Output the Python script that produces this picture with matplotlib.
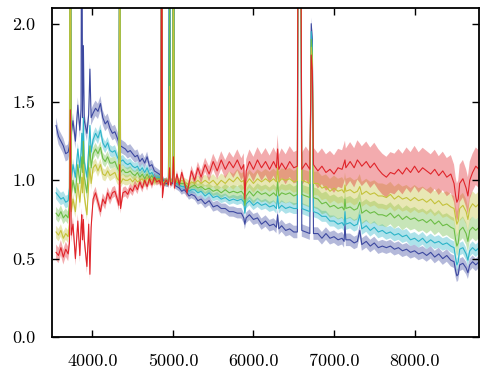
import numpy as np
import matplotlib
matplotlib.use('Agg')
from matplotlib import pyplot as plt
from matplotlib.ticker import FormatStrFormatter

plt.rcParams['font.family'] = 'serif'
plt.rcParams['font.serif'] = ['cmr10']
plt.rcParams['axes.unicode_minus'] = False
plt.rcParams['mathtext.fontset'] = 'cm'

# wavelength grid (Angstrom), 10 per row
wave = [3550, 3580, 3610, 3640, 3670, 3700, 3716, 3727, 3738, 3760,
        3790, 3820, 3845, 3860, 3869, 3878, 3889, 3900, 3933, 3955,
        3970, 3985, 4010, 4040, 4070, 4101, 4130, 4160, 4190, 4220,
        4250, 4280, 4310, 4330, 4340, 4350, 4380, 4410, 4440, 4470,
        4500, 4530, 4560, 4590, 4620, 4650, 4680, 4710, 4740, 4770,
        4800, 4830, 4852, 4861, 4870, 4890, 4920, 4945, 4959, 4970,
        4995, 5007, 5019, 5050, 5080, 5110, 5140, 5175, 5200, 5230,
        5270, 5310, 5350, 5400, 5450, 5500, 5550, 5600, 5650, 5700,
        5750, 5800, 5850, 5880, 5893, 5910, 5950, 6000, 6050, 6100,
        6150, 6200, 6250, 6285, 6300, 6315, 6350, 6400, 6450, 6500,
        6545, 6563, 6575, 6583, 6600, 6650, 6700, 6717, 6731, 6745,
        6800, 6850, 6900, 6950, 7000, 7050, 7100, 7125, 7136, 7147,
        7200, 7250, 7290, 7320, 7345, 7400, 7450, 7500, 7550, 7600,
        7650, 7700, 7750, 7800, 7850, 7900, 7950, 8000, 8050, 8100,
        8150, 8200, 8250, 8300, 8350, 8400, 8450, 8490, 8510, 8525,
        8542, 8560, 8600, 8640, 8662, 8685, 8720, 8760, 8800]

flux_blue = [1.35, 1.28, 1.25, 1.22, 1.17, 1.18, 1.22, 4.00, 1.30, 1.38,
             1.25, 1.48, 1.32, 1.45, 3.50, 1.40, 1.86, 1.38, 1.30, 1.42,
             1.71, 1.40, 1.43, 1.46, 1.44, 1.49, 1.40, 1.36, 1.38, 1.33,
             1.30, 1.31, 1.27, 1.24, 3.00, 1.22, 1.21, 1.20, 1.18, 1.19,
             1.17, 1.15, 1.16, 1.12, 1.14, 1.11, 1.15, 1.09, 1.10, 1.06,
             1.05, 1.04, 1.03, 3.50, 1.01, 0.99, 0.98, 0.98, 3.00, 0.99,
             0.98, 4.00, 0.97, 0.96, 0.95, 0.93, 0.94, 0.92, 0.90, 0.91,
             0.90, 0.87, 0.88, 0.85, 0.87, 0.83, 0.84, 0.82, 0.82, 0.80,
             0.80, 0.79, 0.79, 0.76, 0.72, 0.76, 0.78, 0.75, 0.76, 0.72,
             0.74, 0.71, 0.72, 0.70, 0.78, 0.69, 0.71, 0.68, 0.69, 0.67,
             0.67, 5.00, 2.50, 3.50, 0.68, 0.67, 0.66, 2.00, 1.90, 0.66,
             0.66, 0.63, 0.66, 0.63, 0.64, 0.62, 0.63, 0.61, 0.72, 0.62,
             0.62, 0.60, 0.61, 0.68, 0.59, 0.61, 0.58, 0.60, 0.57, 0.58,
             0.57, 0.58, 0.56, 0.57, 0.55, 0.56, 0.54, 0.55, 0.53, 0.54,
             0.52, 0.54, 0.51, 0.53, 0.50, 0.52, 0.49, 0.48, 0.42, 0.39,
             0.40, 0.46, 0.47, 0.44, 0.41, 0.46, 0.48, 0.46, 0.48]

flux_cyan = [0.92, 0.90, 0.88, 0.89, 0.86, 0.87, 0.95, 4.00, 1.00, 1.10,
             1.02, 1.20, 1.08, 1.18, 1.30, 1.15, 1.40, 1.12, 1.02, 1.20,
             1.35, 1.18, 1.26, 1.30, 1.27, 1.32, 1.24, 1.21, 1.24, 1.19,
             1.18, 1.19, 1.15, 1.13, 3.00, 1.12, 1.13, 1.11, 1.10, 1.11,
             1.09, 1.08, 1.09, 1.06, 1.08, 1.05, 1.08, 1.04, 1.05, 1.02,
             1.02, 1.02, 1.01, 3.50, 1.00, 0.99, 0.99, 0.98, 3.00, 0.99,
             0.99, 4.00, 0.98, 0.98, 0.97, 0.96, 0.96, 0.94, 0.93, 0.94,
             0.94, 0.92, 0.93, 0.90, 0.92, 0.89, 0.90, 0.88, 0.89, 0.87,
             0.88, 0.87, 0.88, 0.86, 0.79, 0.85, 0.87, 0.84, 0.86, 0.84,
             0.85, 0.83, 0.84, 0.82, 0.90, 0.82, 0.84, 0.82, 0.83, 0.82,
             0.82, 5.00, 2.50, 3.50, 0.82, 0.81, 0.80, 1.95, 1.85, 0.80,
             0.79, 0.77, 0.77, 0.74, 0.74, 0.72, 0.73, 0.71, 0.80, 0.72,
             0.73, 0.71, 0.72, 0.78, 0.69, 0.71, 0.68, 0.70, 0.67, 0.68,
             0.66, 0.67, 0.65, 0.66, 0.64, 0.65, 0.62, 0.63, 0.61, 0.63,
             0.60, 0.62, 0.60, 0.61, 0.59, 0.60, 0.58, 0.57, 0.50, 0.46,
             0.48, 0.56, 0.57, 0.53, 0.49, 0.55, 0.57, 0.55, 0.57]

flux_green = [0.79, 0.77, 0.80, 0.76, 0.78, 0.76, 0.85, 4.00, 0.90, 1.00,
              0.92, 1.10, 0.98, 1.08, 1.15, 1.05, 1.25, 1.02, 0.92, 1.10,
              1.22, 1.08, 1.17, 1.20, 1.17, 1.21, 1.14, 1.12, 1.15, 1.11,
              1.11, 1.12, 1.08, 1.06, 3.00, 1.05, 1.07, 1.05, 1.05, 1.06,
              1.04, 1.03, 1.05, 1.02, 1.04, 1.01, 1.04, 1.01, 1.03, 1.00,
              1.01, 1.01, 1.00, 3.50, 0.99, 0.99, 0.99, 0.99, 2.20, 0.99,
              0.99, 3.00, 0.99, 0.99, 0.98, 0.98, 0.98, 0.96, 0.95, 0.96,
              0.97, 0.95, 0.96, 0.94, 0.95, 0.93, 0.94, 0.92, 0.94, 0.92,
              0.93, 0.92, 0.93, 0.91, 0.84, 0.90, 0.93, 0.90, 0.93, 0.91,
              0.92, 0.90, 0.92, 0.90, 0.99, 0.90, 0.92, 0.91, 0.92, 0.90,
              0.91, 5.00, 2.50, 3.50, 0.91, 0.90, 0.89, 1.90, 1.80, 0.89,
              0.88, 0.85, 0.86, 0.83, 0.84, 0.82, 0.83, 0.81, 0.88, 0.82,
              0.83, 0.81, 0.82, 0.86, 0.79, 0.81, 0.79, 0.80, 0.78, 0.78,
              0.77, 0.79, 0.76, 0.78, 0.75, 0.77, 0.75, 0.76, 0.74, 0.75,
              0.73, 0.75, 0.72, 0.74, 0.71, 0.72, 0.70, 0.69, 0.62, 0.58,
              0.60, 0.68, 0.70, 0.66, 0.61, 0.68, 0.70, 0.68, 0.70]

flux_yellow = [0.67, 0.65, 0.68, 0.63, 0.66, 0.64, 0.72, 4.00, 0.80, 0.88,
               0.80, 0.98, 0.86, 0.95, 1.02, 0.92, 1.10, 0.90, 0.78, 0.98,
               1.08, 0.98, 1.08, 1.10, 1.06, 1.10, 1.04, 1.03, 1.06, 1.03,
               1.04, 1.05, 1.01, 1.00, 3.00, 0.98, 1.01, 1.00, 1.00, 1.01,
               0.99, 1.01, 0.99, 1.00, 1.01, 0.98, 1.02, 0.99, 1.01, 0.99,
               1.00, 1.00, 0.99, 3.50, 0.98, 0.99, 0.99, 0.99, 1.60, 0.99,
               1.00, 2.50, 0.99, 1.00, 0.99, 1.00, 0.99, 0.98, 0.97, 0.99,
               0.98, 1.00, 0.98, 1.00, 0.98, 1.00, 0.97, 1.00, 0.98, 1.01,
               0.99, 1.02, 0.99, 1.00, 0.91, 0.98, 1.01, 0.98, 1.01, 0.99,
               1.01, 0.99, 1.01, 0.99, 1.08, 0.99, 1.01, 1.00, 1.01, 0.99,
               1.00, 5.00, 2.50, 3.50, 1.00, 0.99, 0.98, 1.85, 1.75, 0.98,
               0.98, 0.95, 0.96, 0.93, 0.95, 0.93, 0.94, 0.92, 0.97, 0.93,
               0.94, 0.92, 0.93, 0.96, 0.91, 0.93, 0.91, 0.92, 0.90, 0.90,
               0.89, 0.91, 0.88, 0.90, 0.88, 0.89, 0.87, 0.89, 0.87, 0.88,
               0.86, 0.88, 0.85, 0.87, 0.84, 0.85, 0.83, 0.82, 0.76, 0.72,
               0.74, 0.82, 0.84, 0.80, 0.75, 0.82, 0.85, 0.83, 0.85]

flux_red = [0.54, 0.52, 0.57, 0.51, 0.56, 0.53, 0.60, 1.45, 0.65, 0.72,
            0.50, 0.74, 0.52, 0.70, 0.78, 0.62, 0.75, 0.62, 0.45, 0.72,
            0.40, 0.70, 0.88, 0.92, 0.86, 0.80, 0.88, 0.85, 0.92, 0.88,
            0.92, 0.93, 0.88, 0.84, 1.10, 0.82, 0.92, 0.93, 0.91, 0.95,
            0.93, 0.97, 0.94, 0.99, 0.95, 1.00, 0.96, 1.01, 0.97, 1.02,
            0.99, 1.00, 0.97, 3.50, 0.89, 0.98, 1.00, 0.97, 1.08, 0.97,
            0.99, 1.15, 0.95, 1.04, 0.97, 1.05, 0.99, 0.92, 0.98, 1.06,
            1.00, 1.08, 1.02, 1.10, 1.04, 1.12, 1.06, 1.13, 1.07, 1.12,
            1.08, 1.13, 1.07, 1.10, 0.88, 1.06, 1.12, 1.07, 1.13, 1.08,
            1.12, 1.07, 1.12, 1.08, 1.20, 1.07, 1.11, 1.07, 1.12, 1.08,
            1.09, 5.00, 2.50, 3.50, 1.07, 1.11, 1.07, 1.80, 1.70, 1.10,
            1.06, 1.09, 1.05, 1.07, 1.04, 1.08, 1.07, 1.11, 1.13, 1.08,
            1.12, 1.08, 1.13, 1.11, 1.09, 1.12, 1.08, 1.11, 1.07, 1.04,
            1.02, 1.05, 1.04, 1.07, 1.04, 1.08, 1.05, 1.09, 1.05, 1.08,
            1.06, 1.04, 1.07, 1.03, 1.06, 1.02, 1.04, 0.98, 0.90, 0.86,
            0.88, 0.98, 1.01, 0.95, 0.90, 1.00, 1.05, 1.09, 1.07]

# half-width of the shaded band, read at a few wavelengths
err_wave = [3550, 4000, 4500, 5000, 5500, 6000, 6500, 7000, 7500, 8000, 8500, 8800]
err_blue = [0.05, 0.05, 0.04, 0.02, 0.03, 0.035, 0.04, 0.04, 0.04, 0.04, 0.04, 0.04]
err_cyan = [0.04, 0.04, 0.03, 0.02, 0.025, 0.03, 0.035, 0.035, 0.04, 0.04, 0.04, 0.04]
err_green = [0.04, 0.04, 0.03, 0.02, 0.03, 0.05, 0.06, 0.07, 0.07, 0.07, 0.07, 0.07]
err_yellow = [0.04, 0.04, 0.03, 0.02, 0.04, 0.06, 0.07, 0.08, 0.08, 0.08, 0.08, 0.08]
err_red = [0.05, 0.04, 0.03, 0.02, 0.05, 0.08, 0.10, 0.12, 0.13, 0.13, 0.12, 0.12]

series = [(flux_blue, err_blue, '#3c48a0'),
          (flux_cyan, err_cyan, '#2cb4c8'),
          (flux_green, err_green, '#6cbd45'),
          (flux_yellow, err_yellow, '#c4c23a'),
          (flux_red, err_red, '#e0242a')]

fig = plt.figure(figsize=(4.91, 3.82), dpi=100)
ax = fig.add_axes([0.106, 0.118, 0.8696, 0.861])

for flux, err, col in series:
    f = np.array(flux)
    e = np.interp(wave, err_wave, err)
    ax.fill_between(wave, f - e, f + e, color=col, alpha=0.38, lw=0)
    ax.plot(wave, f, color=col, lw=0.8)

ax.set_xlim(3500, 8800)
ax.set_ylim(0.0, 2.1)
ax.set_xticks([4000, 5000, 6000, 7000, 8000])
ax.set_yticks([0.0, 0.5, 1.0, 1.5, 2.0])
ax.xaxis.set_major_formatter(FormatStrFormatter('%.1f'))
ax.yaxis.set_major_formatter(FormatStrFormatter('%.1f'))
ax.tick_params(direction='in', top=True, right=True, length=5, width=1,
               labelsize=13)
ax.tick_params(axis='x', pad=12)
ax.tick_params(axis='y', pad=12)
for sp in ax.spines.values():
    sp.set_linewidth(1.3)

fig.savefig('out.png', dpi=100)
